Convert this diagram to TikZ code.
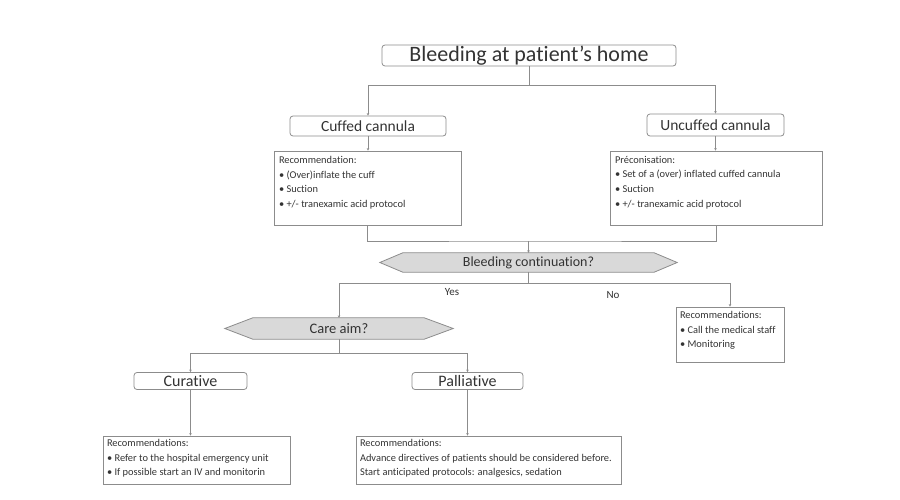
\documentclass[tikz,border=0pt]{standalone}
\usepackage{fontspec}
\setmainfont[Ligatures=NoCommon]{Carlito}
\usetikzlibrary{arrows.meta}
\pgfdeclarelayer{bg}
\pgfsetlayers{bg,main}
\definecolor{txtgray}{HTML}{333333}
\definecolor{linegray}{HTML}{8C8C8C}
\definecolor{hexfill}{HTML}{D9D9D9}
\newcommand\recpar[3]{\parbox[c][#2][t]{#1}{\raggedright\fontsize{10.4}{14.8}\selectfont #3}}
\begin{document}
\begin{tikzpicture}[x=1pt,y=-1pt,
  txt/.style={text=txtgray},
  rbox/.style={draw=linegray, rounded corners=3pt, line width=0.8pt, inner sep=0pt, txt},
  recbox/.style={draw=linegray, line width=0.8pt, inner sep=0pt, txt},
  hexlabel/.style={inner sep=0pt, txt},
  hexline/.style={draw=linegray, fill=hexfill, line width=0.8pt},
  conn/.style={draw=linegray, line width=0.8pt},
  arr/.style={conn, -{Stealth[length=2.5pt,width=2.5pt]}},
  lbl/.style={txt, inner sep=0pt, font=\fontsize{11}{13}\selectfont},
]
\useasboundingbox (0,0) rectangle (900,500);

% top level
\node[rbox, minimum width=294pt, minimum height=21pt, font=\fontsize{22}{24}\selectfont] (title) at (529,55.5) {Bleeding at patient’s home};
\node[rbox, minimum width=156pt, minimum height=20pt, font=\fontsize{15.5}{17}\selectfont] (cuff) at (368,126) {Cuffed cannula};
\node[rbox, minimum width=137pt, minimum height=22pt, font=\fontsize{15.5}{17}\selectfont] (uncuff) at (715.5,125) {Uncuffed cannula};

\node[recbox, minimum width=187pt, minimum height=74pt] (recL) at (367.5,188)
  {\recpar{177pt}{64pt}{Recommendation:\\ •~(Over)inflate the cuff\\ •~Suction\\ •~+/- tranexamic acid protocol}};
\node[recbox, minimum width=212pt, minimum height=74pt] (recR) at (716,188)
  {\recpar{202pt}{64pt}{Préconisation:\\ •~Set of a (over) inflated cuffed cannula\\ •~Suction\\ •~+/- tranexamic acid protocol}};

\coordinate (j1) at (529,85);
\draw[conn] (title.south) -- (j1);
\draw[arr] (j1) -| (cuff.north);
\draw[arr] (j1) -| (uncuff.north);
\draw[arr] (cuff.south) -- (cuff.south |- recL.north);
\draw[arr] (uncuff.south) -- (uncuff.south |- recR.north);

% bleeding continuation
\node[hexlabel, minimum width=297pt, minimum height=19pt, font=\fontsize{14}{16}\selectfont] (bc) at (528.5,262.5) {Bleeding continuation?};
\begin{pgfonlayer}{bg}
\draw[hexline] (bc.west) -- ([xshift=23pt]bc.north west) -- ([xshift=-23pt]bc.north east) -- (bc.east) -- ([xshift=-23pt]bc.south east) -- ([xshift=23pt]bc.south west) -- cycle;
\end{pgfonlayer}
\coordinate (j2) at (528.5,241);
\draw[conn] (recL.south) |- (j2) -| (recR.south);
\draw[arr] (j2) -- (bc.north);

% care aim
\node[hexlabel, minimum width=228pt, minimum height=21pt, font=\fontsize{14.5}{16}\selectfont] (care) at (339,328.5) {Care aim?};
\begin{pgfonlayer}{bg}
\draw[hexline] (care.west) -- ([xshift=28pt]care.north west) -- ([xshift=-29pt]care.north east) -- (care.east) -- ([xshift=-29pt]care.south east) -- ([xshift=28pt]care.south west) -- cycle;
\end{pgfonlayer}
\node[recbox, minimum width=108pt, minimum height=55pt] (recN) at (730,334.5)
  {\recpar{100pt}{47pt}{Recommendations:\\ •~Call the medical staff\\ •~Monitoring}};

\coordinate (j3) at (528.5,283);
\draw[conn] (bc.south) -- (j3);
\draw[arr] (j3) -| (care.north);
\draw[arr] (j3) -| (recN.north);
\node[lbl] (yes) at (452,292) {Yes};
\node[lbl] (no) at (613,295) {No};

% curative / palliative
\node[rbox, minimum width=113pt, minimum height=17pt, font=\fontsize{16}{18}\selectfont] (cur) at (190.5,381) {Curative};
\node[rbox, minimum width=111pt, minimum height=17pt, font=\fontsize{16}{18}\selectfont] (pal) at (467.5,381) {Palliative};
\coordinate (j4) at (339,353);
\draw[conn] (care.south) -- (j4);
\draw[arr] (j4) -| (cur.north);
\draw[arr] (j4) -| (pal.north);

\node[recbox, minimum width=187pt, minimum height=48pt] (curRec) at (196.5,460)
  {\recpar{179pt}{42pt}{Recommendations:\\ •~Refer to the hospital emergency unit\\ •~If possible start an IV and monitorin}};
\node[recbox, minimum width=265pt, minimum height=48pt] (palRec) at (488.5,460)
  {\recpar{257pt}{42pt}{Recommendations:\\ Advance directives of patients should be considered before.\\ Start anticipated protocols: analgesics, sedation}};
\draw[arr] (cur.south) -- (cur.south |- curRec.north);
\draw[arr] (pal.south) -- (pal.south |- palRec.north);
\end{tikzpicture}
\end{document}
